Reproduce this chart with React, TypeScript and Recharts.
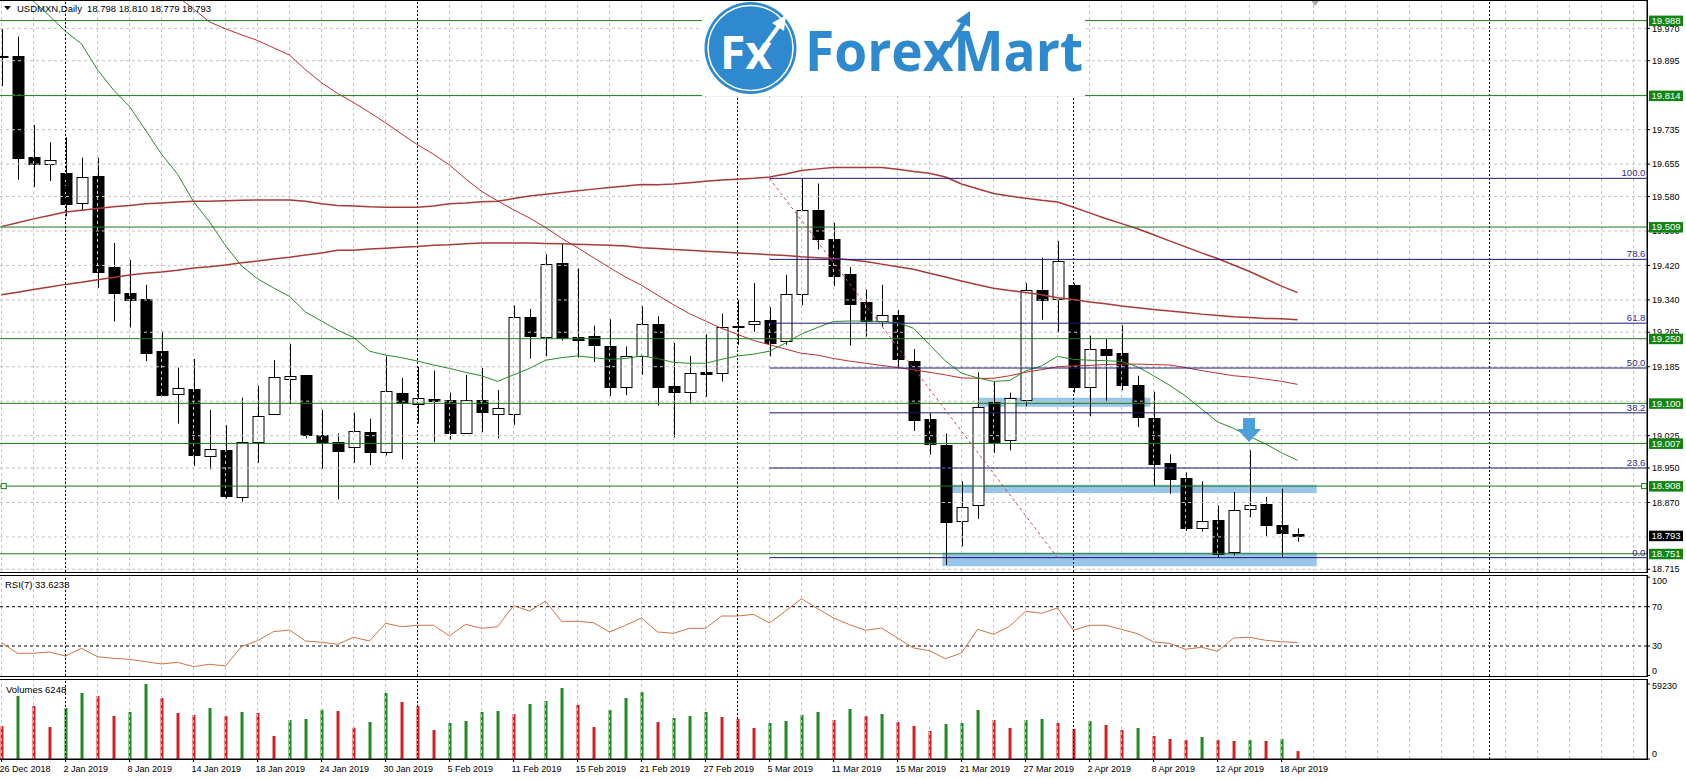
import React from 'react';
import {
  ComposedChart, Bar, Line, XAxis, YAxis,
  ReferenceLine, ReferenceArea, ReferenceDot, Cell,
} from 'recharts';

const FONT = "'Liberation Sans', Arial, sans-serif";

// daily bars 26 Dec 2018 .. 19 Apr 2019
const opens = [19.907, 19.906, 19.672, 19.656, 19.634, 19.563, 19.627, 19.416, 19.357, 19.342, 19.221, 19.121, 19.134, 18.977, 18.992, 18.884, 19.010, 19.076, 19.157, 19.165, 19.026, 19.011, 18.998, 19.033, 18.987, 19.125, 19.100, 19.110, 19.107, 19.030, 19.107, 19.076, 19.076, 19.300, 19.253, 19.426, 19.253, 19.257, 19.234, 19.136, 19.209, 19.283, 19.140, 19.127, 19.172, 19.170, 19.279, 19.283, 19.293, 19.243, 19.353, 19.548, 19.481, 19.400, 19.334, 19.291, 19.304, 19.198, 19.063, 19.004, 18.828, 18.863, 19.102, 19.015, 19.108, 19.364, 19.342, 19.375, 19.138, 19.226, 19.216, 19.142, 19.066, 18.962, 18.927, 18.810, 18.829, 18.755, 18.853, 18.866, 18.817, 18.798];
const highs = [19.968, 19.951, 19.746, 19.706, 19.717, 19.670, 19.670, 19.472, 19.433, 19.375, 19.267, 19.183, 19.203, 19.085, 19.049, 19.113, 19.141, 19.200, 19.238, 19.165, 19.085, 19.030, 19.078, 19.064, 19.209, 19.159, 19.185, 19.176, 19.125, 19.166, 19.182, 19.131, 19.327, 19.319, 19.446, 19.470, 19.413, 19.280, 19.295, 19.232, 19.325, 19.302, 19.240, 19.210, 19.260, 19.308, 19.340, 19.379, 19.323, 19.398, 19.621, 19.610, 19.519, 19.416, 19.364, 19.375, 19.317, 19.226, 19.077, 19.030, 18.919, 19.172, 19.152, 19.125, 19.379, 19.438, 19.477, 19.378, 19.257, 19.249, 19.281, 19.164, 19.127, 18.982, 18.940, 18.919, 18.863, 18.894, 18.991, 18.883, 18.902, 18.810];
const lows = [19.836, 19.619, 19.602, 19.616, 19.534, 19.547, 19.368, 19.290, 19.276, 19.198, 19.117, 19.053, 18.955, 18.947, 18.879, 18.872, 18.962, 19.074, 19.098, 19.019, 18.948, 18.877, 18.962, 18.957, 18.979, 18.970, 19.053, 19.010, 19.016, 19.030, 19.033, 19.019, 19.050, 19.204, 19.209, 19.246, 19.206, 19.196, 19.117, 19.119, 19.166, 19.095, 19.021, 19.100, 19.115, 19.151, 19.236, 19.266, 19.209, 19.236, 19.328, 19.457, 19.372, 19.234, 19.255, 19.278, 19.181, 19.036, 18.981, 18.725, 18.768, 18.832, 18.985, 18.991, 19.093, 19.294, 19.264, 19.125, 19.070, 19.104, 19.130, 19.045, 18.908, 18.890, 18.804, 18.802, 18.742, 18.747, 18.836, 18.792, 18.744, 18.779];
const closes = [19.905, 19.670, 19.656, 19.665, 19.563, 19.624, 19.404, 19.355, 19.340, 19.217, 19.119, 19.135, 18.981, 18.994, 18.885, 19.011, 19.070, 19.161, 19.163, 19.025, 19.010, 18.989, 19.035, 18.987, 19.128, 19.101, 19.113, 19.106, 19.030, 19.107, 19.079, 19.089, 19.300, 19.255, 19.423, 19.251, 19.246, 19.236, 19.140, 19.209, 19.283, 19.136, 19.125, 19.170, 19.168, 19.276, 19.278, 19.291, 19.240, 19.353, 19.548, 19.481, 19.396, 19.331, 19.290, 19.306, 19.202, 19.060, 19.006, 18.826, 18.860, 19.091, 19.010, 19.113, 19.364, 19.340, 19.430, 19.138, 19.226, 19.212, 19.142, 19.068, 18.959, 18.925, 18.810, 18.827, 18.751, 18.853, 18.863, 18.817, 18.798, 18.793];

// moving averages
const maGreen = [20.104, 20.068, 20.033, 19.999, 19.963, 19.934, 19.874, 19.827, 19.789, 19.734, 19.678, 19.632, 19.568, 19.521, 19.466, 19.419, 19.389, 19.368, 19.348, 19.312, 19.291, 19.270, 19.253, 19.221, 19.212, 19.206, 19.198, 19.189, 19.181, 19.172, 19.164, 19.151, 19.166, 19.181, 19.200, 19.206, 19.210, 19.206, 19.202, 19.204, 19.210, 19.204, 19.195, 19.193, 19.193, 19.202, 19.210, 19.214, 19.221, 19.240, 19.261, 19.276, 19.290, 19.291, 19.291, 19.290, 19.287, 19.274, 19.236, 19.198, 19.170, 19.159, 19.151, 19.153, 19.175, 19.187, 19.209, 19.202, 19.200, 19.199, 19.197, 19.185, 19.164, 19.142, 19.117, 19.087, 19.057, 19.042, 19.023, 19.006, 18.985, 18.968];
const maRedFast = [20.40, 20.37, 20.34, 20.31, 20.28, 20.25, 20.21, 20.18, 20.14, 20.11, 20.07, 20.044, 20.015, 19.985, 19.969, 19.955, 19.942, 19.925, 19.908, 19.874, 19.844, 19.819, 19.798, 19.775, 19.751, 19.725, 19.700, 19.678, 19.653, 19.621, 19.592, 19.570, 19.549, 19.530, 19.508, 19.483, 19.461, 19.438, 19.415, 19.393, 19.374, 19.351, 19.329, 19.308, 19.291, 19.274, 19.260, 19.246, 19.236, 19.226, 19.216, 19.212, 19.204, 19.198, 19.193, 19.188, 19.183, 19.178, 19.172, 19.166, 19.159, 19.158, 19.158, 19.164, 19.172, 19.178, 19.185, 19.187, 19.188, 19.190, 19.191, 19.191, 19.190, 19.189, 19.183, 19.176, 19.170, 19.164, 19.161, 19.156, 19.151, 19.144];
const maRedTop = [19.510, 19.519, 19.528, 19.536, 19.544, 19.548, 19.552, 19.556, 19.559, 19.563, 19.565, 19.567, 19.569, 19.569, 19.570, 19.571, 19.572, 19.572, 19.572, 19.569, 19.563, 19.559, 19.558, 19.556, 19.555, 19.555, 19.555, 19.558, 19.563, 19.565, 19.568, 19.569, 19.575, 19.581, 19.585, 19.589, 19.593, 19.597, 19.601, 19.604, 19.608, 19.607, 19.609, 19.612, 19.615, 19.618, 19.620, 19.622, 19.625, 19.632, 19.640, 19.644, 19.647, 19.647, 19.647, 19.647, 19.643, 19.638, 19.634, 19.625, 19.609, 19.598, 19.587, 19.581, 19.576, 19.571, 19.567, 19.555, 19.542, 19.529, 19.517, 19.505, 19.491, 19.477, 19.463, 19.449, 19.436, 19.421, 19.406, 19.389, 19.372, 19.357];
const maRedMid = [19.352, 19.358, 19.364, 19.370, 19.376, 19.381, 19.387, 19.392, 19.398, 19.402, 19.405, 19.409, 19.414, 19.417, 19.421, 19.426, 19.430, 19.435, 19.439, 19.444, 19.449, 19.455, 19.455, 19.458, 19.460, 19.462, 19.464, 19.467, 19.468, 19.470, 19.472, 19.472, 19.472, 19.472, 19.471, 19.470, 19.469, 19.468, 19.467, 19.465, 19.461, 19.459, 19.457, 19.455, 19.453, 19.451, 19.449, 19.447, 19.445, 19.443, 19.440, 19.438, 19.436, 19.433, 19.429, 19.423, 19.417, 19.411, 19.402, 19.393, 19.384, 19.375, 19.367, 19.362, 19.357, 19.352, 19.345, 19.341, 19.335, 19.331, 19.326, 19.322, 19.318, 19.314, 19.311, 19.307, 19.304, 19.301, 19.299, 19.297, 19.296, 19.294];

const rsi7 = [33.4, 22.6, 22.6, 23.9, 19.8, 27.7, 19.1, 17.5, 16.4, 14.1, 11.7, 13.4, 9.0, 11.4, 9.7, 29.3, 35.4, 44.6, 46.3, 35.1, 33.8, 31.7, 38.9, 35.1, 53.1, 49.6, 51.1, 51.1, 40.2, 52.1, 48.0, 49.6, 71.0, 65.6, 75.6, 55.1, 55.1, 53.7, 44.3, 51.1, 58.5, 44.3, 42.9, 48.0, 48.0, 60.5, 60.5, 62.2, 53.4, 65.6, 78.1, 68.0, 58.5, 51.7, 46.0, 48.3, 38.1, 28.0, 25.2, 17.1, 22.9, 47.0, 41.9, 50.0, 65.3, 63.3, 68.7, 46.0, 51.1, 51.1, 47.0, 42.5, 34.1, 32.7, 26.7, 28.7, 24.6, 38.1, 38.9, 35.8, 34.3, 33.6];

const volumes = [26060, 49750, 41860, 25270, 40280, 52120, 49750, 33960, 37120, 59230, 48170, 36330, 34750, 40280, 33960, 37120, 36330, 18160, 30800, 31590, 38930, 37910, 24720, 29220, 52120, 45020, 41860, 22900, 28430, 30010, 37120, 37910, 35540, 43440, 45810, 56070, 42650, 25270, 38700, 48170, 52910, 29220, 32380, 33960, 37120, 33170, 31590, 24480, 28430, 30010, 34750, 37120, 30800, 39490, 33960, 35540, 29220, 26060, 22110, 27640, 28430, 38700, 30800, 24480, 30800, 31590, 28430, 23690, 30010, 26850, 22900, 24480, 18160, 15800, 15000, 17370, 15000, 14220, 15000, 14220, 15800, 6248];

const dateTicks = [0, 4, 8, 12, 16, 20, 24, 28, 32, 36, 40, 44, 48, 52, 56, 60, 64, 68, 72, 76, 80];
const dateLabels = ['26 Dec 2018', '2 Jan 2019', '8 Jan 2019', '14 Jan 2019', '18 Jan 2019', '24 Jan 2019', '30 Jan 2019', '5 Feb 2019', '11 Feb 2019', '15 Feb 2019', '21 Feb 2019', '27 Feb 2019', '5 Mar 2019', '11 Mar 2019', '15 Mar 2019', '21 Mar 2019', '27 Mar 2019', '2 Apr 2019', '8 Apr 2019', '12 Apr 2019', '18 Apr 2019'];

// axis labels (the ones fully hidden behind level boxes are left out)
const priceTicks = [19.970, 19.895, 19.735, 19.655, 19.580, 19.500, 19.420, 19.340, 19.265, 19.185, 19.025, 18.950, 18.870, 18.715];
const gridPrices = [19.970, 19.895, 19.815, 19.735, 19.655, 19.580, 19.500, 19.420, 19.340, 19.265, 19.185, 19.105, 19.025, 18.950, 18.870, 18.790, 18.715];
const greenLevels = [19.988, 19.814, 19.509, 19.250, 19.100, 19.007, 18.908, 18.751];
const lastPrice = 18.793;
const fibPrices = [19.622, 19.434, 19.286, 19.182, 19.078, 18.950, 18.742];
const fibNames = ['100.0', '78.6', '61.8', '50.0', '38.2', '23.6', '0.0'];
const monthBreaks = [4, 26, 46, 67, 93];
const gridBars = Array.from({ length: 52 }, (_, k) => k * 2);

const X_DOMAIN = [-0.094, 102.84];
const Y_MAIN = [18.7087, 20.0358];
const rows = opens.map((o, i) => ({
  i, o, h: highs[i], l: lows[i], c: closes[i], range: [lows[i], highs[i]],
  ma1: maGreen[i], ma2: maRedFast[i], ma3: maRedTop[i], ma4: maRedMid[i],
  rsi: rsi7[i], vol: volumes[i],
}));

const Candle = (props: any) => {
  const { x, y, width, height, payload } = props;
  const top = Math.min(y, y + height);
  const hh = Math.abs(height);
  const k = hh / (payload.h - payload.l || 1);
  const yo = top + (payload.h - payload.o) * k;
  const yc = top + (payload.h - payload.c) * k;
  const cx = Math.round(x + width / 2) + 0.5;
  const up = payload.c > payload.o;
  const bt = Math.round(Math.min(yo, yc)) + 0.5;
  const bh = Math.max(1, Math.round(Math.abs(yo - yc)));
  return (
    <g>
      <line x1={cx} x2={cx} y1={top} y2={top + hh} stroke="#000" />
      <rect x={cx - 5.5} y={bt} width={11} height={bh} fill={up ? '#fff' : '#000'} stroke="#000" />
    </g>
  );
};

const LevelBox = (props: any) => {
  const { viewBox, text, bg } = props;
  if (!viewBox) return null;
  const x = viewBox.x + viewBox.width + 2;
  const y = viewBox.y;
  return (
    <g>
      <rect x={x} y={y - 5} width={34} height={10.5} fill={bg} />
      <text x={x + 17} y={y + 3.3} textAnchor="middle" fill="#fff" fontSize={9.5} fontFamily={FONT}>{text}</text>
    </g>
  );
};

const FibText = (props: any) => {
  const { viewBox, text } = props;
  if (!viewBox) return null;
  return (
    <text x={viewBox.x + viewBox.width - 1} y={viewBox.y - 2} textAnchor="end" fill="#2a2a80" fontSize={9.5} fontFamily={FONT}>{text}</text>
  );
};

const Arrow = (props: any) => {
  const { cx, cy } = props;
  return (
    <g fill="#4d9fdc">
      <rect x={cx - 6} y={cy - 12} width={12} height={12} />
      <polygon points={`${cx - 12},${cy - 1} ${cx + 12},${cy - 1} ${cx},${cy + 12}`} />
    </g>
  );
};

const Square = (props: any) => (
  <rect x={props.cx - 2.5} y={props.cy - 2.5} width={5} height={5} fill="#fff" stroke="#1e7b1e" />
);

const ShiftMark = (props: any) => (
  <polygon points={`${props.cx - 4.5},${props.cy - 3} ${props.cx + 4.5},${props.cy - 3} ${props.cx},${props.cy + 3}`} fill="#a8a8a8" />
);

const SideTick = (props: any) => {
  const { x, y, payload, shift } = props;
  return (
    <text x={x} y={y} dy={3.2 + (shift[payload.value] || 0)} fontSize={9} fontFamily={FONT} fill="#000">{payload.value}</text>
  );
};

const DateTick = (props: any) => {
  const { x, y, payload } = props;
  return (
    <text x={x - 2} y={y} dy={8} fontSize={9} fontFamily={FONT} fill="#000" textAnchor="start">
      {dateLabels[dateTicks.indexOf(payload.value)]}
    </text>
  );
};

const vLines = () => [
  ...gridBars.map((b) => (
    <ReferenceLine key={'g' + b} x={b} stroke="#c4c4c4" strokeDasharray="3 3" />
  )),
  ...monthBreaks.map((b) => (
    <ReferenceLine key={'m' + b} x={b} stroke="#000" strokeDasharray="2 2" />
  )),
];

const maLine = (key: string, color: string, width: number) => (
  <Line
    dataKey={key} stroke={color} strokeWidth={width} strokeLinecap="butt"
    dot={false} activeDot={false} legendType="none" isAnimationActive={false}
  />
);

const frame = (top: number, height: number): React.CSSProperties => ({
  position: 'absolute', left: -1, top, width: 1649, height, boxSizing: 'border-box',
  border: '1px solid #000', pointerEvents: 'none',
});

export default function App() {
  return (
    <div style={{ position: 'relative', width: 1686, height: 779, background: '#fff', overflow: 'hidden', fontFamily: FONT }}>
      <style>{'body{margin:0;background:#fff}'}</style>

      <div style={{ position: 'absolute', left: 0, top: 0 }}>
        <ComposedChart width={1686} height={572} data={rows} margin={{ top: 0, right: 0, bottom: 0, left: 0 }}>
          <XAxis type="number" dataKey="i" domain={X_DOMAIN} hide allowDataOverflow />
          <YAxis
            orientation="right" width={39} domain={Y_MAIN} allowDataOverflow
            ticks={priceTicks} interval={0} tickSize={3} tickFormatter={(v: number) => v.toFixed(3)}
            tick={{ fontSize: 9, fill: '#000', fontFamily: FONT }} stroke="#000"
          />
          {gridPrices.map((p) => (
            <ReferenceLine key={'hg' + p} y={p} stroke="#c4c4c4" strokeDasharray="3 3" />
          ))}
          {vLines()}
          <Bar dataKey="range" barSize={11} shape={<Candle />} isAnimationActive={false} />
          {maLine('ma2', '#b83030', 1)}
          {maLine('ma3', '#a83a3a', 1.5)}
          {maLine('ma4', '#a83a3a', 1.5)}
          {maLine('ma1', '#2a8a2a', 1)}
          {greenLevels.map((p) => (
            <ReferenceLine key={'lv' + p} y={p} stroke="#1e7b1e" />
          ))}
          {fibPrices.map((p, k) => (
            <ReferenceLine key={'fb' + k} segment={[{ x: 48, y: p }, { x: 102.8, y: p }]} stroke="#1a1a78" label={<FibText text={fibNames[k]} />} />
          ))}
          <ReferenceLine segment={[{ x: 48, y: fibPrices[0] }, { x: 66, y: fibPrices[6] }]} stroke="#c04848" strokeDasharray="3 3" />
          <ReferenceArea x1={61.0} x2={71.8} y1={19.092} y2={19.113} fill="#7fb7e3" fillOpacity={0.8} stroke="none" />
          <ReferenceArea x1={58.7} x2={82.2} y1={18.892} y2={18.911} fill="#7fb7e3" fillOpacity={0.8} stroke="none" />
          <ReferenceArea x1={58.8} x2={82.2} y1={18.722} y2={18.754} fill="#7fb7e3" fillOpacity={0.8} stroke="none" />
          <ReferenceDot x={77.97} y={19.038} r={1} shape={<Arrow />} />
          <ReferenceDot x={0.14} y={18.908} r={1} shape={<Square />} />
          <ReferenceDot x={102.66} y={18.908} r={1} shape={<Square />} />
          <ReferenceDot x={82.1} y={20.029} r={1} shape={<ShiftMark />} />
        </ComposedChart>
      </div>

      {/* price boxes on the right axis, drawn above the tick labels */}
      <div style={{ position: 'absolute', left: 0, top: 0, pointerEvents: 'none' }}>
        <ComposedChart width={1686} height={572} data={rows} margin={{ top: 0, right: 0, bottom: 0, left: 0 }}>
          <XAxis type="number" dataKey="i" domain={X_DOMAIN} hide allowDataOverflow />
          <YAxis orientation="right" width={39} domain={Y_MAIN} allowDataOverflow tick={false} tickLine={false} axisLine={false} />
          {greenLevels.map((p) => (
            <ReferenceLine key={'bx' + p} y={p} strokeOpacity={0} label={<LevelBox text={p.toFixed(3)} bg="#138413" />} />
          ))}
          <ReferenceLine y={lastPrice} strokeOpacity={0} label={<LevelBox text={lastPrice.toFixed(3)} bg="#000" />} />
        </ComposedChart>
      </div>

      <div style={{ position: 'absolute', left: 0, top: 575 }}>
        <ComposedChart width={1686} height={101} data={rows} margin={{ top: 0, right: 0, bottom: 0, left: 0 }}>
          <XAxis type="number" dataKey="i" domain={X_DOMAIN} hide allowDataOverflow />
          <YAxis
            orientation="right" width={39} domain={[-0.51, 102.24]} allowDataOverflow
            ticks={[0, 30, 70, 100]} interval={0} tickSize={3} stroke="#000"
            tick={<SideTick shift={{ 100: 3.8, 0: -4.8 }} />}
          />
          {vLines()}
          <ReferenceLine y={70} stroke="#000" strokeDasharray="3 3" />
          <ReferenceLine y={30} stroke="#000" strokeDasharray="3 3" />
          {maLine('rsi', '#cc7446', 1)}
        </ComposedChart>
      </div>

      <div style={{ position: 'absolute', left: 0, top: 679 }}>
        <ComposedChart width={1686} height={100} data={rows} margin={{ top: 0, right: 0, bottom: 0, left: 0 }}>
          <XAxis
            type="number" dataKey="i" domain={X_DOMAIN} allowDataOverflow height={20}
            ticks={dateTicks} interval={0} tickSize={3} stroke="#000" tick={<DateTick />}
          />
          <YAxis
            orientation="right" width={39} domain={[0, 63179]} allowDataOverflow
            ticks={[0, 59230]} interval={0} tickSize={3} stroke="#000"
            tick={<SideTick shift={{ 59230: 1.7, 0: -5.7 }} />}
          />
          {vLines()}
          <Bar dataKey="vol" barSize={3} isAnimationActive={false}>
            {rows.map((r, i) => (
              <Cell key={i} fill={i > 0 && r.vol > volumes[i - 1] ? '#1f8a1f' : '#d42020'} />
            ))}
          </Bar>
        </ComposedChart>
      </div>

      <div style={frame(0, 573)} />
      <div style={frame(575, 102)} />
      <div style={frame(679, 81)} />

      <svg width={1686} height={779} style={{ position: 'absolute', left: 0, top: 0, pointerEvents: 'none' }}>
        <polygon points="4,6 11,6 7.5,10" fill="#000" />
        <text x={17} y={12} fontSize={9.5} fontFamily={FONT} fill="#000">USDMXN,Daily</text>
        <text x={87} y={12} fontSize={9.5} fontFamily={FONT} fill="#000">18.798 18.810 18.779 18.793</text>
        <text x={5} y={588} fontSize={9.5} fontFamily={FONT} fill="#000">RSI(7) 33.6238</text>
        <text x={6} y={693} fontSize={9.5} fontFamily={FONT} fill="#000">Volumes 6248</text>
      </svg>

      <svg width={392} height={95} style={{ position: 'absolute', left: 702, top: 1 }}>
        <rect x={0} y={0} width={383} height={95} fill="#fff" />
        <circle cx={48.5} cy={47} r={46} fill="#2f89cf" />
        <circle cx={48.5} cy={47} r={42.5} fill="none" stroke="#fff" strokeWidth={1.5} />
        <text x={18} y={68} fontSize={46} fontWeight={700} fontFamily="'Open Sans', sans-serif" fill="#fff">Fx</text>
        <line x1={56} y1={54} x2={79} y2={22} stroke="#fff" strokeWidth={4} />
        <polygon points="84,14 70,22 82,30" fill="#fff" />
        <text x={103} y={70} fontSize={56} fontWeight={700} fontFamily="'Open Sans', sans-serif" fill="#2f89cf" textLength={278} lengthAdjust="spacingAndGlyphs">ForexMart</text>
        <line x1={247} y1={46} x2={263} y2={20} stroke="#2f89cf" strokeWidth={5} />
        <polygon points="268,10 254,20 268,26" fill="#2f89cf" />
      </svg>
    </div>
  );
}
